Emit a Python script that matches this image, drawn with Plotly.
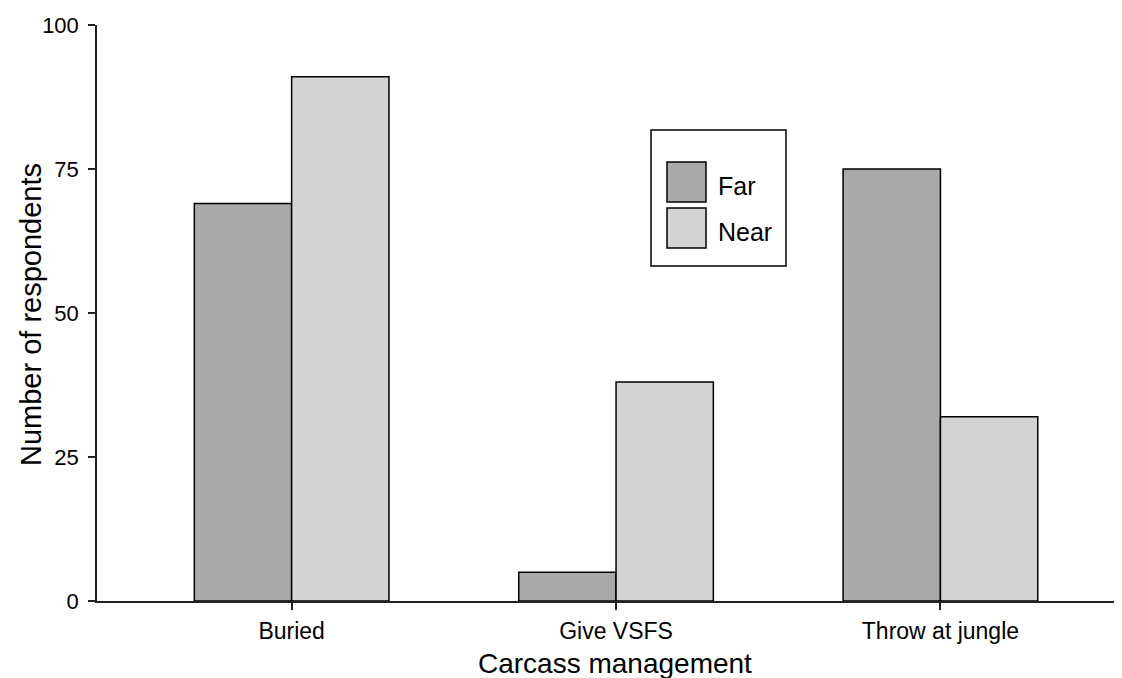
import plotly.graph_objects as go

categories = ["Buried", "Give VSFS", "Throw at jungle"]
series_names = ["Far", "Near"]
far_values = [69, 5, 75]
near_values = [91, 38, 32]
y_ticks = [0, 25, 50, 75, 100]

fill_colors = {"Far": "#A9A9A9", "Near": "#D3D3D3"}

OFF = 8  # page body margin offset
W, H = 1122 - OFF, 678 - OFF
L, R, T = 97 - OFF, 0, 25 - OFF
B = H - (601 - OFF)
pw, ph = W - L - R, H - T - B

def px(x):
    return (x - OFF - L) / pw

def py(y):
    return (H - B - (y - OFF)) / ph

fig = go.Figure()
xs = list(range(len(categories)))
for name, vals in zip(series_names, [far_values, near_values]):
    fig.add_trace(go.Bar(
        x=xs, y=vals, name=name,
        marker=dict(color=fill_colors[name], line=dict(color="black", width=1.5)),
        showlegend=False,
    ))

font = "Liberation Sans, Arial, sans-serif"

# legend drawn manually
shapes = [dict(type="rect", xref="paper", yref="paper",
               x0=px(651), x1=px(786), y0=py(266), y1=py(130),
               line=dict(color="black", width=1.5), fillcolor="white", layer="above")]
annotations = []
key_tops = [162, 208]
for name, top in zip(series_names, key_tops):
    shapes.append(dict(type="rect", xref="paper", yref="paper",
                       x0=px(667), x1=px(706), y0=py(top + 40), y1=py(top),
                       line=dict(color="black", width=1.5), fillcolor=fill_colors[name], layer="above"))
    annotations.append(dict(xref="paper", yref="paper", x=px(716), y=py(top + 24),
                            text=name, showarrow=False, xanchor="left", yanchor="middle",
                            font=dict(family=font, size=25, color="black")))

# axis titles placed as annotations
annotations.append(dict(xref="paper", yref="paper", x=px(31), y=py(315),
                        text="Number of respondents", textangle=-90, showarrow=False,
                        xanchor="center", yanchor="middle",
                        font=dict(family=font, size=29, color="black")))
annotations.append(dict(xref="paper", yref="paper", x=px(615), y=py(663),
                        text="Carcass management", showarrow=False,
                        xanchor="center", yanchor="middle",
                        font=dict(family=font, size=28, color="black")))

fig.update_layout(
    width=W, height=H,
    margin=dict(l=L, r=R, t=T, b=B, autoexpand=False),
    plot_bgcolor="white", paper_bgcolor="white",
    barmode="group", bargap=0.4, bargroupgap=0,
    font=dict(family=font, color="black"),
    shapes=shapes, annotations=annotations,
    xaxis=dict(
        range=[-0.6, (1122 - 97) / 324.4 - 0.6],
        tickvals=xs, ticktext=categories,
        showline=True, linecolor="#222", linewidth=1.5,
        ticks="outside", ticklen=7, tickcolor="#222", tickwidth=1.5,
        tickfont=dict(size=23, color="black"), ticklabelstandoff=2,
        showgrid=False, zeroline=False,
    ),
    yaxis=dict(
        range=[0, 100],
        tickvals=y_ticks,
        showline=True, linecolor="#222", linewidth=1.5,
        ticks="outside", ticklen=7, tickcolor="#222", tickwidth=1.5,
        tickfont=dict(size=22, color="black"), ticklabelstandoff=5,
        showgrid=False, zeroline=False,
    ),
)

fig.write_html("out.html")
